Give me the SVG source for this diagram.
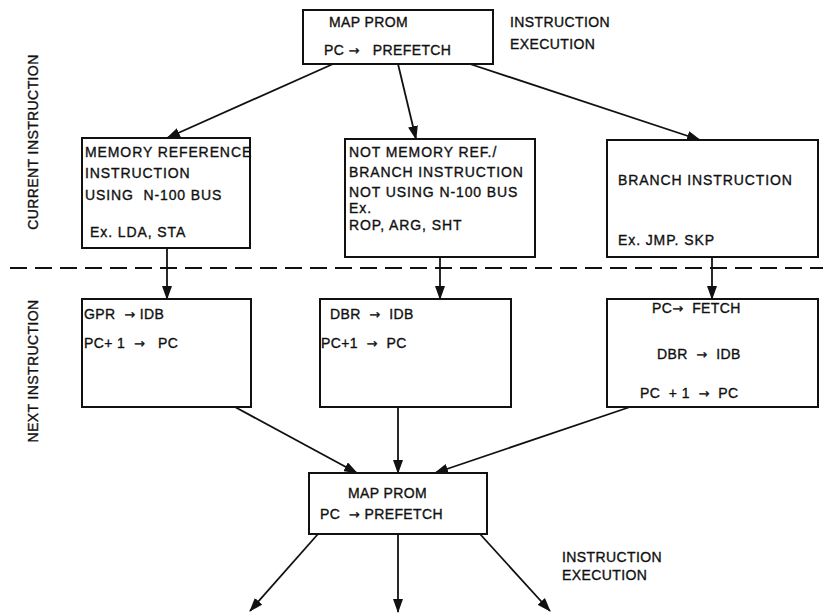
<svg xmlns="http://www.w3.org/2000/svg" width="823" height="613" viewBox="0 0 823 613">
<defs>
<marker id="ah" markerUnits="userSpaceOnUse" markerWidth="14" markerHeight="10" refX="13" refY="5" orient="auto">
<path d="M0,0 L14,5 L0,10 Z" fill="#111"/>
</marker>
<style>
.box{fill:#fff;stroke:#111;stroke-width:2}
.t{font-family:"Liberation Sans",Arial,sans-serif;font-size:14px;fill:#111;stroke:#111;stroke-width:0.35;letter-spacing:0.4px;white-space:pre}
.w{letter-spacing:0.9px}
.ar{font-family:"DejaVu Sans",sans-serif;font-size:13px}
.c{stroke:#111;stroke-width:1.8;fill:none;marker-end:url(#ah)}
.dash{stroke:#111;stroke-width:2;stroke-dasharray:17 8;fill:none}
</style>
</defs>
<g id="labels">
<text class="t" transform="translate(38,142) rotate(-90)" text-anchor="middle">CURRENT INSTRUCTION</text>
<text class="t" transform="translate(38,371) rotate(-90)" text-anchor="middle">NEXT INSTRUCTION</text>
<text class="t" x="510" y="27">INSTRUCTION</text>
<text class="t" x="510" y="49">EXECUTION</text>
<text class="t" x="562" y="562">INSTRUCTION</text>
<text class="t" x="562" y="580">EXECUTION</text>
</g>
<g id="connectors">
<line class="dash" x1="10" y1="268" x2="823" y2="268"/>
<line class="c" x1="333" y1="64" x2="167" y2="138"/>
<line class="c" x1="398" y1="64" x2="416" y2="139"/>
<line class="c" x1="470" y1="64" x2="700" y2="140"/>
<line class="c" x1="167" y1="248" x2="167" y2="299"/>
<line class="c" x1="440" y1="257" x2="440" y2="299"/>
<line class="c" x1="712" y1="257" x2="712" y2="299"/>
<line class="c" x1="235" y1="407" x2="357" y2="473"/>
<line class="c" x1="398" y1="407" x2="398" y2="473"/>
<line class="c" x1="630" y1="407" x2="435" y2="473"/>
<line class="c" x1="318" y1="534" x2="250" y2="611"/>
<line class="c" x1="398" y1="534" x2="398" y2="612"/>
<line class="c" x1="480" y1="534" x2="550" y2="611"/>
</g>
<g id="top-map">
<rect class="box" x="303" y="10" width="190" height="54"/>
<text class="t" x="329" y="27">MAP PROM</text>
<text class="t" x="324" y="55">PC <tspan class="ar">→</tspan>   PREFETCH</text>
</g>
<g id="mem-ref">
<rect class="box" x="82" y="138" width="168" height="110"/>
<text class="t w" x="85" y="157">MEMORY REFERENCE</text>
<text class="t w" x="85" y="178">INSTRUCTION</text>
<text class="t w" x="85" y="200">USING  N-100 BUS</text>
<text class="t w" x="90" y="237">Ex. LDA, STA</text>
</g>
<g id="not-mem-ref">
<rect class="box" x="345" y="139" width="190" height="118"/>
<text class="t w" x="349" y="157">NOT MEMORY REF./</text>
<text class="t w" x="349" y="177">BRANCH INSTRUCTION</text>
<text class="t w" x="349" y="197">NOT USING N-100 BUS</text>
<text class="t w" x="349" y="213">Ex.</text>
<text class="t w" x="349" y="230">ROP, ARG, SHT</text>
</g>
<g id="branch">
<rect class="box" x="607" y="140" width="211" height="117"/>
<text class="t w" x="618" y="185">BRANCH INSTRUCTION</text>
<text class="t w" x="618" y="245">Ex. JMP. SKP</text>
</g>
<g id="gpr">
<rect class="box" x="82" y="299" width="169" height="108"/>
<text class="t" x="84" y="319">GPR  <tspan class="ar">→</tspan> IDB</text>
<text class="t" x="84" y="348">PC+ 1  <tspan class="ar">→</tspan>   PC</text>
</g>
<g id="dbr">
<rect class="box" x="320" y="299" width="191" height="108"/>
<text class="t" x="330" y="319">DBR  <tspan class="ar">→</tspan>  IDB</text>
<text class="t" x="321" y="348">PC+1  <tspan class="ar">→</tspan>  PC</text>
</g>
<g id="fetch">
<rect class="box" x="607" y="299" width="211" height="108"/>
<text class="t" x="652" y="313">PC<tspan class="ar">→</tspan>  FETCH</text>
<text class="t" x="657" y="359">DBR  <tspan class="ar">→</tspan>  IDB</text>
<text class="t" x="640" y="398">PC  + 1  <tspan class="ar">→</tspan>  PC</text>
</g>
<g id="bottom-map">
<rect class="box" x="309" y="473" width="178" height="61"/>
<text class="t" x="348" y="498">MAP PROM</text>
<text class="t" x="320" y="519">PC  <tspan class="ar">→</tspan> PREFETCH</text>
</g>
</svg>
